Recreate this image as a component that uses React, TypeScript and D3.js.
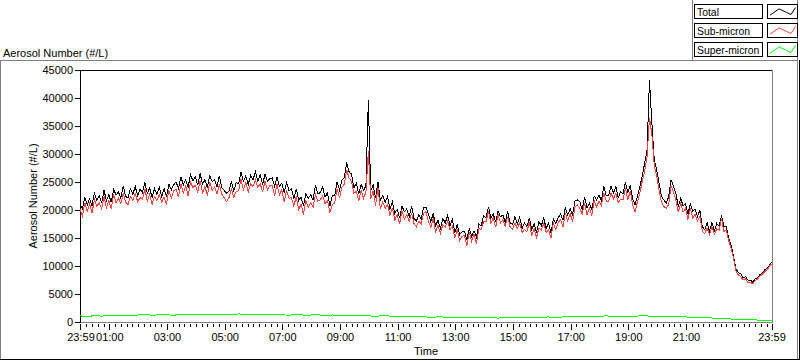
import React from 'react';
import * as d3 from 'd3';

const START = new Date(2000, 0, 1, 23, 59);
const END = new Date(2000, 0, 2, 23, 59);
const SAMPLE_MIN = 5;
const SUPER_SAMPLE_MIN = 15;

const total = [
  21200,20200,22300,20900,22000,20800,23000,21700,22600,21200,
  23500,21700,22700,21400,23700,22700,23200,22100,24300,22400,
  22200,23800,22800,24200,22500,23700,23100,24900,23000,23900,
  22200,23800,22800,24000,22400,23800,22300,24600,23600,24500,
  25000,23800,25900,24500,25400,24100,26300,25200,25900,24400,
  26500,24600,25400,24000,26100,25100,25400,24100,26100,24000,
  23500,23000,23400,25100,23400,24900,24700,26700,25100,26100,
  24500,26200,25400,26800,25100,26300,24500,26400,25100,25600,
  25700,24200,25900,24200,24800,23100,24900,23400,23800,22000,
  23800,21700,22300,20700,22900,22100,22700,21800,24400,22900,
  23100,24100,22300,23100,20700,22500,22600,25000,23600,25300,
  25800,28500,26800,26400,24000,24800,22800,24600,23500,24300,
  39600,23400,24500,22100,25000,21700,22600,21400,22400,20100,
  21400,19400,20100,18600,20700,19700,20200,18800,20700,18500,
  18000,19200,18400,20500,20500,19300,17900,19400,17200,18200,
  16700,18500,17700,19000,17200,18300,15900,17400,15600,16100,
  16200,14600,16700,15300,16300,15100,17500,17200,19000,18600,
  20600,18600,19300,17800,19800,18800,19100,17800,19800,17700,
  17400,18800,17500,18700,16700,17700,17000,18600,16500,17500,
  16000,17900,17200,18600,16700,17700,15900,18400,17600,18600,
  19300,18200,20400,19100,20200,19100,21600,21800,21500,20100,
  22300,20400,21200,20100,22500,21800,22600,21700,24200,22500,
  22600,24300,23000,24200,22200,23300,22900,24900,23100,24400,
  22000,20900,22500,24200,26000,28400,30700,43200,35500,29000,
  27100,24800,22400,21800,21200,22400,25400,24200,23000,20600,
  22100,20700,21100,19300,21000,19800,20100,18800,20000,17000,
  16500,17700,16200,17800,16200,17600,17100,19000,17100,17000,
  14900,13700,11700,9500,8800,8600,7900,8100,7500,7500,
  7100,7700,7900,8500,8700,9300,9600,10200,10700,
];

const subMicron = [
  20100,18900,21300,19700,21100,19400,21900,20700,21300,20200,
  22400,20400,21700,20200,22800,21300,22100,21100,23000,21400,
  21000,22400,21700,22900,21500,22200,21900,23800,21600,22800,
  21000,22400,21700,22700,21400,22300,21100,23500,22200,23400,
  23700,22300,24700,23100,24300,22500,25000,24000,24400,23200,
  25200,23100,24200,22600,25000,23500,24100,22900,24600,22800,
  22200,21500,22200,23700,22300,23300,23400,25500,23600,24900,
  23200,24700,24200,25400,24000,24700,23200,25200,23600,24400,
  24300,22600,24600,22700,23600,21400,23500,22100,22200,20700,
  22400,20100,21000,19200,21700,20400,21300,20500,22800,21600,
  21800,22600,21100,21700,19600,20900,21300,23800,22100,24100,
  24600,27100,25700,25100,23000,23300,21600,23500,22100,23200,
  30500,22000,23400,20800,24000,20200,21400,20300,21000,19000,
  20400,18200,19200,17500,19900,18400,19200,17900,19500,17600,
  17000,18000,17500,19400,19700,18000,16900,18500,16000,17300,
  15800,17400,16900,18000,16500,17100,15000,16600,14500,15300,
  15400,13600,16000,14400,15700,14000,16700,16500,18000,17900,
  19800,17600,18600,16900,19200,17700,18300,17100,18800,17000,
  16500,17700,16700,17700,16000,16500,16100,17800,15400,16700,
  15100,16800,16400,17600,16000,16500,15000,17600,16500,17800,
  18300,17000,19500,18000,19400,17800,20600,20900,20300,19200,
  21300,19200,20300,19000,21700,20500,21600,20800,23000,21600,
  21500,23000,22000,23000,21300,21900,21800,23900,21800,23400,
  21000,19600,21500,23000,25100,27000,29600,36500,33500,28000,
  26000,23500,21400,20600,20300,21000,24300,23200,21700,19600,
  21200,19600,20300,18300,20300,18600,19200,18000,18900,16200,
  15800,16800,15600,17000,15700,16600,16400,18400,16200,16400,
  14500,13200,11300,9100,8400,8100,7500,7700,7000,7100,
  6800,7400,7700,8200,8500,9000,9300,10000,10400,
];

const superMicron = [
  1100,950,1150,1050, 1200,1100,1250,1150, 1250,1350,1200,1300,
  1300,1200,1400,1250, 1300,1400,1250,1350, 1350,1250,1450,1300,
  1350,1400,1250,1350, 1300,1200,1350,1250, 1250,1300,1150,1250,
  1200,1100,1250,1150, 1100,1000,1150,1050, 1000,950,1050,900,
  900,850,950,800, 800,750,850,750, 750,800,700,800,
  800,750,850,800, 850,900,800,900, 950,900,1000,950,
  1000,1100,950,1050, 1050,1000,1150,1050, 1050,1000,1050,950,
  900,850,800,750, 700,650,550,500, 450,400,350,300,
  250,
];

const yTicks = [0, 5000, 10000, 15000, 20000, 25000, 30000, 35000, 40000, 45000];
const xTickLabels = ["01:00", "03:00", "05:00", "07:00", "09:00", "11:00", "13:00", "15:00", "17:00", "19:00", "21:00"];
const edgeLabel = "23:59";
const seriesNames = ["Total", "Sub-micron", "Super-micron"];
const seriesColors = ["#000000", "#ff4040", "#00ff00"];
const yTitle = "Aerosol Number (#/L)";
const xTitle = "Time";

const FONT = "'Liberation Sans', Arial, sans-serif";

export default function App() {
  const plot = { left: 80, right: 772, top: 70, bottom: 322 };
  const x = d3.scaleTime().domain([START, END]).range([plot.left, plot.right]);
  const y = d3.scaleLinear().domain([0, 45000]).range([plot.bottom, plot.top]);

  const mkLine = (step: number) =>
    d3.line<number>()
      .x((_, i) => x(d3.timeMinute.offset(START, i * step)))
      .y((d) => y(d));

  const series = [
    { values: total, step: SAMPLE_MIN },
    { values: subMicron, step: SAMPLE_MIN },
    { values: superMicron, step: SUPER_SAMPLE_MIN },
  ];

  const labelDate = (s: string) => {
    const [h, m] = s.split(":").map(Number);
    return new Date(2000, 0, 2, h, m);
  };
  const majorDates = [START, ...xTickLabels.map(labelDate), END];
  const minorDates = d3.timeMinute.every(12)!.range(START, END);

  const legendTop = [4, 23, 42];

  return (
    <svg width={800} height={361} style={{ position: 'fixed', left: 0, top: 0, background: '#fff' }}
      fontFamily={FONT} fontSize={11}>
      {/* panel frame */}
      <line x1={0} x2={798} y1={60.5} y2={60.5} stroke="#808080" />
      <line x1={0.5} x2={0.5} y1={60} y2={359} stroke="#808080" />
      <line x1={0} x2={800} y1={359.5} y2={359.5} stroke="#000" />
      <line x1={799.5} x2={799.5} y1={60} y2={360} stroke="#000" />
      <line x1={797.5} x2={797.5} y1={0} y2={359} stroke="#808080" />
      <line x1={692.5} x2={692.5} y1={0} y2={60} stroke="#808080" />

      {/* legend */}
      {seriesNames.map((name, k) => {
        const t = legendTop[k];
        const sx = 767, sw = 30, sh = 14;
        const pts: [number, number][] = [[0.1, 0.8], [0.4, 0.35], [0.65, 0.6], [0.8, 0.75], [0.95, 0.25]];
        const p = d3.line()(pts.map(([a, b]) => [sx + a * sw, t + b * sh]) as [number, number][]);
        return (
          <g key={name}>
            <rect x={694.5} y={t + 0.5} width={68} height={sh} fill="#fff" stroke="#000" />
            <text x={697} y={t + 11.5} fontSize={10.4}>{name}</text>
            <rect x={sx + 0.5} y={t + 0.5} width={sw} height={sh} fill="#fff" stroke="#000" />
            <path d={p!} fill="none" stroke={seriesColors[k]} strokeWidth={1} />
          </g>
        );
      })}

      {/* titles */}
      <text x={3} y={57}>{yTitle}</text>
      <text transform={`translate(37,${(plot.top + plot.bottom) / 2}) rotate(-90)`} textAnchor="middle">{yTitle}</text>
      <text x={(plot.left + plot.right) / 2} y={355} textAnchor="middle">{xTitle}</text>

      {/* plot frame */}
      <line x1={plot.left} x2={plot.right + 1} y1={plot.top + 0.5} y2={plot.top + 0.5} stroke="#000" />
      <line x1={plot.left + 0.5} x2={plot.left + 0.5} y1={plot.top} y2={plot.bottom + 1} stroke="#000" />
      <line x1={plot.right + 0.5} x2={plot.right + 0.5} y1={plot.top} y2={plot.bottom + 1} stroke="#808080" />
      <line x1={plot.left + 1} x2={plot.right + 1} y1={plot.bottom + 0.5} y2={plot.bottom + 0.5} stroke="#808080" />

      {/* y ticks */}
      {yTicks.map((v) => (
        <g key={v}>
          <line x1={75} x2={80} y1={Math.round(y(v)) + 0.5} y2={Math.round(y(v)) + 0.5} stroke="#000" />
          <text x={73} y={Math.round(y(v)) + 4} textAnchor="end">{v}</text>
        </g>
      ))}

      {/* x ticks */}
      {minorDates.map((d, i) => (
        <line key={'m' + i} x1={Math.round(x(d)) + 0.5} x2={Math.round(x(d)) + 0.5} y1={324} y2={327} stroke="#000" />
      ))}
      {majorDates.map((d, i) => (
        <line key={'M' + i} x1={Math.round(x(d)) + 0.5} x2={Math.round(x(d)) + 0.5} y1={324} y2={330} stroke="#000" />
      ))}
      <text x={x(START) + 1} y={341} textAnchor="middle">{edgeLabel}</text>
      <text x={x(END)} y={341} textAnchor="middle">{edgeLabel}</text>
      {xTickLabels.map((s) => (
        <text key={s} x={x(labelDate(s)) + 0.5} y={341} textAnchor="middle">{s}</text>
      ))}

      {/* data */}
      <g shapeRendering="crispEdges">
        {series.map((s, k) => (
          <path key={k} d={mkLine(s.step)(s.values)!} fill="none" stroke={seriesColors[k]} strokeWidth={1} />
        ))}
      </g>
    </svg>
  );
}
